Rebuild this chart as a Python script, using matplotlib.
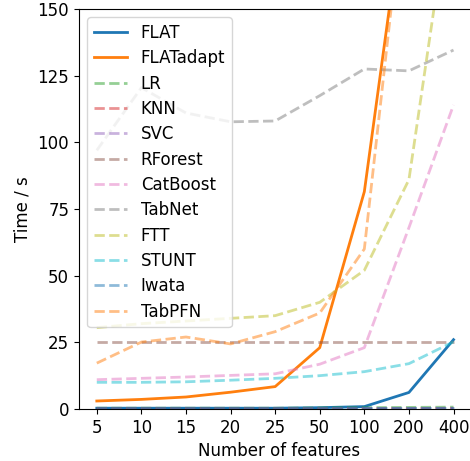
import matplotlib
matplotlib.use('Agg')
import matplotlib.pyplot as plt

plt.rcParams.update({'font.size': 12})

features = ['5', '10', '15', '20', '25', '50', '100', '200', '400']

flat = [0.3, 0.3, 0.3, 0.3, 0.3, 0.5, 0.9, 6.2, 26.0]
flat_adapt = [3.0, 3.6, 4.5, 6.3, 8.4, 23.0, 81.5, 204.0, 600.0]

baselines = {
    'LR': [0.3, 0.3, 0.3, 0.3, 0.3, 0.4, 0.5, 0.6, 0.7],
    'KNN': [0.1, 0.1, 0.1, 0.1, 0.1, 0.1, 0.1, 0.1, 0.2],
    'SVC': [0.1, 0.1, 0.1, 0.1, 0.1, 0.1, 0.2, 0.2, 0.3],
    'RForest': [25.0, 25.0, 25.0, 25.0, 25.0, 25.0, 25.0, 25.0, 25.0],
    'CatBoost': [11.0, 11.5, 12.0, 12.6, 13.2, 16.8, 23.0, 68.0, 114.0],
    'TabNet': [97.0, 120.5, 111.0, 107.7, 108.0, 117.5, 127.5, 126.8, 134.6],
    'FTT': [30.5, 32.0, 33.0, 34.0, 35.0, 40.0, 52.0, 86.0, 200.0],
    'STUNT': [10.0, 10.0, 10.2, 10.8, 11.5, 12.5, 14.0, 17.0, 25.2],
    'Iwata': [0.2, 0.2, 0.2, 0.2, 0.2, 0.2, 0.2, 0.2, 0.2],
    'TabPFN': [17.2, 25.1, 27.0, 24.4, 29.0, 36.0, 60.0, 210.0, 400.0],
}
yticks = [0, 25, 50, 75, 100, 125, 150]

fig = plt.figure(figsize=(4.70, 4.61), dpi=100)
# axes run a little past the right edge of the picture, like the cropped original
ax = fig.add_axes([0.168, 0.1128, 0.851, 0.8677])

ax.plot(features, flat, lw=2, label='FLAT')
ax.plot(features, flat_adapt, lw=2, label='FLATadapt')
for name, vals in baselines.items():
    ax.plot(features, vals, ls='--', lw=2, alpha=0.5, label=name)

ax.set_xlim(-0.4, 8.57)
ax.set_ylim(0, 150)
ax.set_yticks(yticks)
ax.set_xlabel('Number of features')
ax.set_ylabel('Time / s')
ax.legend(loc='upper left', labelspacing=0.44)

fig.savefig('out.png', dpi=100)
